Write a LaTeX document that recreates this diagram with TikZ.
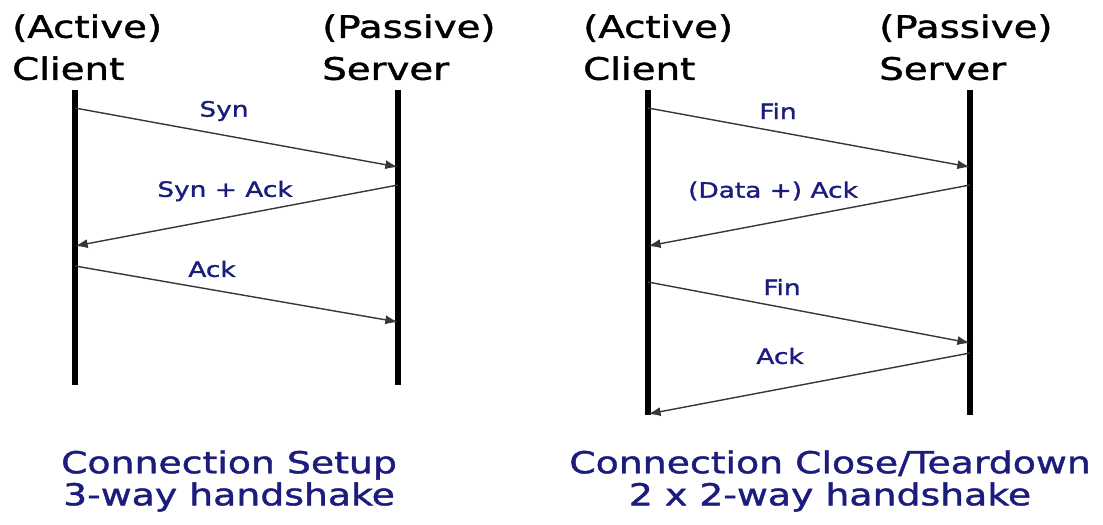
\documentclass[tikz,border=0pt]{standalone}
\usepackage{fontspec}
\setmainfont[FakeStretch=1.25,FakeBold=1.4]{DejaVu Sans}
\usetikzlibrary{arrows.meta,positioning}
\definecolor{navy}{RGB}{28,28,125}
\definecolor{wire}{RGB}{55,55,55}

\tikzset{
  lifeline/.style={line width=3.6pt},
  msg/.style={draw=wire,line width=1pt,-{Latex[length=9pt,width=6.5pt]}},
  msglabel/.style={text=navy,inner sep=0pt,font=\fontsize{15}{19}\selectfont},
  role/.style={anchor=north west,align=left,inner sep=0pt,font=\fontsize{22}{29.9}\selectfont},
  caption/.style={anchor=north,align=center,inner sep=0pt,text=navy,font=\fontsize{21.5}{22.8}\selectfont}
}

\begin{document}
\begin{tikzpicture}[x=0.025cm,y=-0.025cm]
  \useasboundingbox (0,0) rectangle (1103,525);

  % roles
  \node[role] (act1) at (12,14) {(Active)\\Client};
  \node[role] (pas1) at (322,14) {(Passive)\\Server};
  \node[role] (act2) at (583,14) {(Active)\\Client};
  \node[role] (pas2) at (879,14) {(Passive)\\Server};

  % lifelines
  \coordinate (cl1) at (75,90);  \coordinate (cl1end) at (75,385);
  \coordinate (sv1) at (398,90); \coordinate (sv1end) at (398,385);
  \coordinate (cl2) at (648,90);  \coordinate (cl2end) at (648,415);
  \coordinate (sv2) at (970,90); \coordinate (sv2end) at (970,415);
  \foreach \a/\b in {cl1/cl1end,sv1/sv1end,cl2/cl2end,sv2/sv2end}{\draw[lifeline] (\a)--(\b);}

  % setup messages
  \coordinate (syn-c) at (75,108);   \coordinate (syn-s) at (398,167);
  \coordinate (sa-s) at (398,185);   \coordinate (sa-c) at (75,246);
  \coordinate (ack-c) at (75,266);   \coordinate (ack-s) at (398,322);
  \foreach \x/\y in {syn-c/syn-s,sa-s/sa-c,ack-c/ack-s}{\draw[msg] (\x)--(\y);}
  \node[msglabel] (syn) at (224,111) {Syn};
  \node[msglabel] (synack) at (225,191) {Syn + Ack};
  \node[msglabel] (ack) at (212,269) {Ack};

  % teardown messages
  \coordinate (fa-c) at (648,108);   \coordinate (fa-s) at (970,167);
  \coordinate (da-s) at (970,185);   \coordinate (da-c) at (648,246);
  \coordinate (fb-c) at (648,282);   \coordinate (fb-s) at (970,343);
  \coordinate (ab-s) at (970,353);   \coordinate (ab-c) at (648,414);
  \foreach \x/\y in {fa-c/fa-s,da-s/da-c,fb-c/fb-s,ab-s/ab-c}{\draw[msg] (\x)--(\y);}
  \node[msglabel] (fin1) at (778,111) {Fin};
  \node[msglabel] (dataack) at (773,191) {(Data +) Ack};
  \node[msglabel] (fin2) at (782,287) {Fin};
  \node[msglabel] (ack2) at (780,356) {Ack};

  % captions
  \node[caption] (setup) at (229,450) {Connection Setup\\3-way handshake};
  \node[caption] (close) at (830,450) {Connection Close/Teardown\\2 x 2-way handshake};
\end{tikzpicture}
\end{document}
